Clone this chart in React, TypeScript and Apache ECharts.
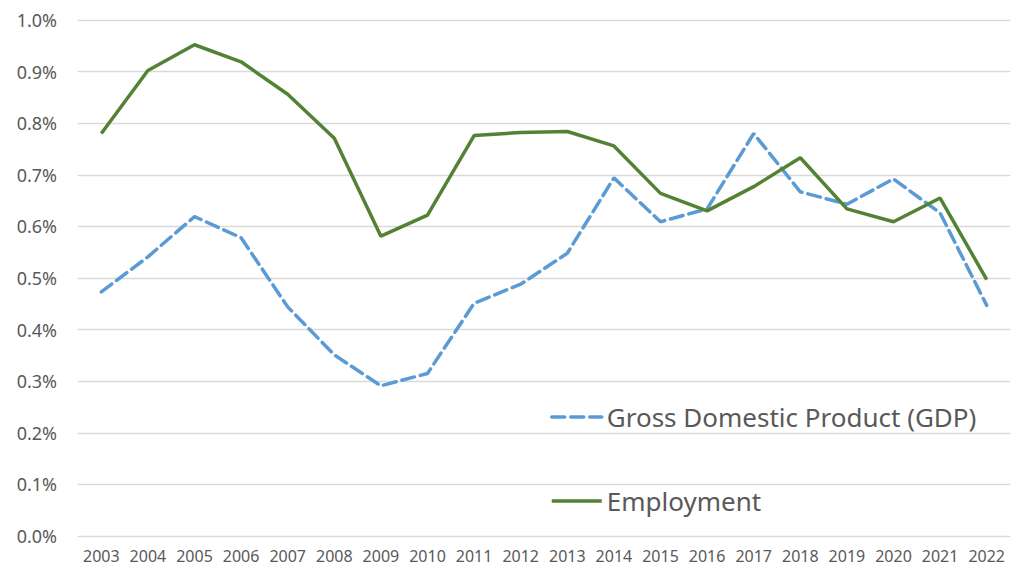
import React, { useEffect, useRef } from "react";
import * as echarts from "echarts";

const years = ["2003","2004","2005","2006","2007","2008","2009","2010","2011","2012","2013","2014","2015","2016","2017","2018","2019","2020","2021","2022"];
const gdp = [0.473,0.541,0.619,0.578,0.444,0.351,0.291,0.315,0.451,0.488,0.548,0.694,0.609,0.634,0.780,0.667,0.643,0.692,0.626,0.447];
const employment = [0.780,0.902,0.952,0.919,0.856,0.771,0.581,0.622,0.776,0.782,0.784,0.756,0.664,0.630,0.677,0.733,0.634,0.609,0.655,0.497];
const yTicks = [0, 0.1, 0.2, 0.3, 0.4, 0.5, 0.6, 0.7, 0.8, 0.9, 1.0];

export default function App() {
  const ref = useRef<HTMLDivElement>(null);
  useEffect(() => {
    if (!ref.current) return;
    const chart = echarts.init(ref.current, undefined, { renderer: "svg" });
    chart.setOption({
      animation: false,
      backgroundColor: "#ffffff",
      grid: { left: 78, right: 9, top: 20, bottom: 33, containLabel: false },
      legend: {
        orient: "vertical",
        left: 545,
        top: 397,
        itemWidth: 50,
        itemHeight: 14,
        itemGap: 54,
        itemStyle: { opacity: 0, borderWidth: 0 },
        lineStyle: { width: 3.5 },
        data: ["Gross Domestic Product (GDP)", "Employment"],
        textStyle: {
          fontFamily: "Noto Sans",
          fontSize: 26,
          color: "#595959",
          lineHeight: 30,
        },
      },
      xAxis: {
        type: "category",
        data: years,
        boundaryGap: true,
        axisLine: { show: false },
        axisTick: { show: false },
        axisLabel: {
          color: "#595959",
          fontFamily: "Noto Sans",
          fontSize: 16,
          margin: 12,
          interval: 0,
        },
      },
      yAxis: {
        type: "value",
        min: yTicks[0],
        max: yTicks[yTicks.length - 1],
        interval: 0.1,
        axisLine: { show: false },
        axisTick: { show: false },
        splitLine: { lineStyle: { color: "#D9D9D9", width: 1.3 } },
        axisLabel: {
          color: "#595959",
          fontFamily: "Noto Sans",
          fontSize: 18,
          margin: 21,
          formatter: (v: number) => v.toFixed(1) + "%",
        },
      },
      series: [
        {
          name: "Gross Domestic Product (GDP)",
          type: "line",
          data: gdp,
          symbol: "none",
          lineStyle: { color: "#5B9BD5", width: 3.5, type: [13, 6], cap: "round" },
          itemStyle: { color: "#5B9BD5" },
          z: 2,
        },
        {
          name: "Employment",
          type: "line",
          data: employment,
          symbol: "none",
          lineStyle: { color: "#548235", width: 3.5 },
          itemStyle: { color: "#548235" },
          z: 3,
        },
      ],
    });
    return () => chart.dispose();
  }, []);
  return (
    <div
      ref={ref}
      style={{ position: "fixed", left: 0, top: 0, width: 1019, height: 569 }}
    />
  );
}
